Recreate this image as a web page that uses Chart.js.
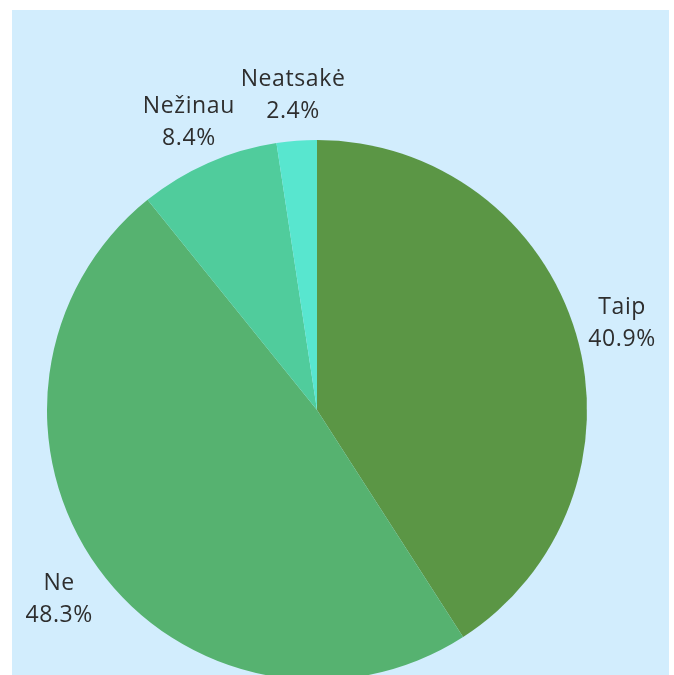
<!DOCTYPE html>
<html>
<head>
<meta charset="utf-8">
<script src="https://cdn.jsdelivr.net/npm/chart.js@4/dist/chart.umd.min.js"></script>
<style>
  html, body { margin: 0; padding: 0; background: #ffffff; overflow: hidden; }
  #panel {
    position: absolute; left: 12px; top: 10px;
    width: 657px; height: 665px;
    background: #d2edfd; overflow: hidden;
  }
  #answersChart { display: block; }
</style>
</head>
<body>
<div id="panel">
  <canvas id="answersChart" width="657" height="680"></canvas>
</div>
<script>
// Answers and their shares (%)
const categories = ["Taip", "Ne", "Nežinau", "Neatsakė"];
const shares = [40.9, 48.3, 8.4, 2.4];
const sliceColors = ["#5b9645", "#56b270", "#50cc9c", "#58e6cf"];

// Labels outside each slice: name on top, percentage below
const outsideLabels = {
    id: "outsideLabels",
    afterDatasetsDraw(chart) {
        const ctx = chart.ctx;
        const meta = chart.getDatasetMeta(0);
        ctx.save();
        ctx.fillStyle = "#2e2e2e";
        ctx.font = "23px 'Open Sans', sans-serif";
        ctx.letterSpacing = "0.6px";
        ctx.textAlign = "center";
        ctx.textBaseline = "middle";
        meta.data.forEach((arc, i) => {
            const mid = (arc.startAngle + arc.endAngle) / 2;
            const r = arc.outerRadius + 48;
            const x = arc.x + Math.cos(mid) * r;
            const y = arc.y + Math.sin(mid) * r + 3;
            ctx.fillText(categories[i], x, y - 16);
            ctx.fillText(shares[i].toFixed(1) + "%", x, y + 16);
        });
        ctx.restore();
    }
};

const ctx = document.getElementById("answersChart").getContext("2d");

new Chart(ctx, {
    type: "pie",
    data: {
        labels: categories,
        datasets: [{
            data: shares,
            backgroundColor: sliceColors,
            borderWidth: 0
        }]
    },
    options: {
        responsive: false,
        animation: false,
        layout: {
            padding: { left: 35, right: 82, top: 130, bottom: 10 }
        },
        plugins: {
            legend: { display: false },
            tooltip: { enabled: false }
        }
    },
    plugins: [outsideLabels]
});
</script>
</body>
</html>
